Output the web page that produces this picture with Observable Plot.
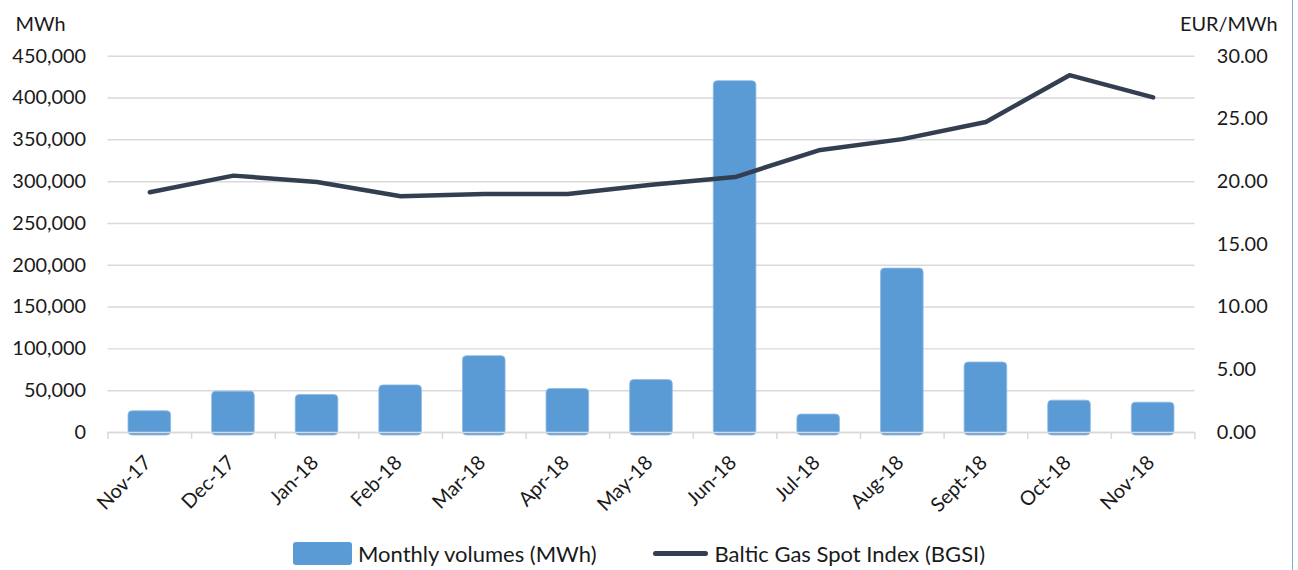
<!DOCTYPE html>
<html>
<head>
<meta charset="utf-8">
<script src="https://cdn.jsdelivr.net/npm/d3@7"></script>
<script src="https://cdn.jsdelivr.net/npm/@observablehq/plot@0.6"></script>
<style>
  html, body { margin: 0; padding: 0; background: #fff; }
  body { width: 1298px; height: 570px; overflow: hidden; font-family: Lato, "Open Sans", sans-serif; }
  #wrap { position: relative; width: 1292px; height: 570px; border-right: 1px solid #7fb0de; }
  #legend { position: absolute; left: 0; top: 530px; width: 1298px; height: 46px; display: flex; align-items: center; justify-content: flex-start; padding-left: 293px; box-sizing: border-box; font-size: 22px; color: #1a1a1a; }
  .item { display: flex; align-items: center; }
  .sw-rect { width: 59px; height: 23px; background: #5B9BD5; border-radius: 3px; margin-right: 6px; }
  .sw-line { width: 55px; height: 5px; background: #333F50; border-radius: 3px; margin-right: 7px; }
</style>
</head>
<body>
<div id="wrap">
  <div id="chart"></div>
  <div id="legend">
    <div class="item" style="margin-right:56px"><div class="sw-rect"></div><span>Monthly volumes (MWh)</span></div>
    <div class="item"><div class="sw-line"></div><span>Baltic Gas Spot Index (BGSI)</span></div>
  </div>
</div>
<script>
const months = ["Nov-17","Dec-17","Jan-18","Feb-18","Mar-18","Apr-18","May-18","Jun-18","Jul-18","Aug-18","Sept-18","Oct-18","Nov-18"];
const volumes = [25400, 48800, 44900, 56300, 91300, 52000, 62700, 420200, 21400, 196000, 83700, 38100, 35700];
const bgsi = [19.15, 20.48, 19.97, 18.83, 19.02, 19.02, 19.76, 20.37, 22.5, 23.39, 24.76, 28.49, 26.72];
const leftTicks = [0, 50000, 100000, 150000, 200000, 250000, 300000, 350000, 400000, 450000];
const rightTicks = [0, 5, 10, 15, 20, 25, 30];
const leftTitle = "MWh";
const rightTitle = "EUR/MWh";

const W = 1298, H = 530, mL = 108, mR = 98, mT = 56, mB = 96;
const ratio = 450000 / 30;
const bw = (W - mL - mR) / months.length;

const data = months.map((m, i) => ({month: m, volume: volumes[i], price: bgsi[i]}));
const fmtLeft = d3.format(",");

const chart = Plot.plot({
  width: W, height: H,
  marginLeft: mL, marginRight: mR, marginTop: mT, marginBottom: mB,
  style: {fontFamily: "Lato, 'Open Sans', sans-serif", fontSize: "20px", color: "#1a1a1a", background: "#fff"},
  x: {type: "band", domain: months, padding: 0, axis: null},
  y: {domain: [0, 450000], axis: null},
  marks: [
    Plot.gridY(leftTicks, {stroke: "#D9D9D9", strokeOpacity: 1, strokeWidth: 1.5}),
    Plot.barY(data, {x: "month", y: "volume", fill: "#5B9BD5", stroke: "#8fbbe6", strokeWidth: 0.8, insetLeft: bw * 0.245, insetRight: bw * 0.245, insetBottom: -3, rx: 4}),
    Plot.ruleY([0], {stroke: "#D9D9D9", strokeWidth: 1.5}),
    Plot.ruleX(months, {x: d => d, y1: 0, y2: 0, dx: -bw / 2, insetBottom: -7, stroke: "#D9D9D9", strokeWidth: 1.5}),
    Plot.ruleX([months[months.length - 1]], {x: d => d, y1: 0, y2: 0, dx: bw / 2, insetBottom: -7, stroke: "#D9D9D9", strokeWidth: 1.5}),
    Plot.line(data, {x: "month", y: d => d.price * ratio, stroke: "#333F50", strokeWidth: 4.5, strokeLinejoin: "round", strokeLinecap: "round"}),
    Plot.axisY(leftTicks, {anchor: "left", label: null, tickSize: 0, tickPadding: 22, tickFormat: fmtLeft, fontSize: 20, fill: "#1a1a1a"}),
    Plot.axisY(rightTicks.map(v => v * ratio), {anchor: "right", label: null, tickSize: 0, tickPadding: 22, tickFormat: d => (d / ratio).toFixed(2), fontSize: 20, fill: "#1a1a1a", textAnchor: "start"}),
    Plot.text(months, {x: d => d, y: 0, text: d => d, rotate: -45, textAnchor: "end", dx: -2, dy: 27, fontSize: 20, fill: "#1a1a1a"}),
    Plot.text([leftTitle], {frameAnchor: "top-left", text: d => d, textAnchor: "start", dx: -93, dy: -40, fontSize: 20, fill: "#1a1a1a"}),
    Plot.text([rightTitle], {frameAnchor: "top-right", text: d => d, textAnchor: "end", dx: 83, dy: -40, fontSize: 20, fill: "#1a1a1a"})
  ]
});
document.getElementById("chart").appendChild(chart);
</script>
</body>
</html>
